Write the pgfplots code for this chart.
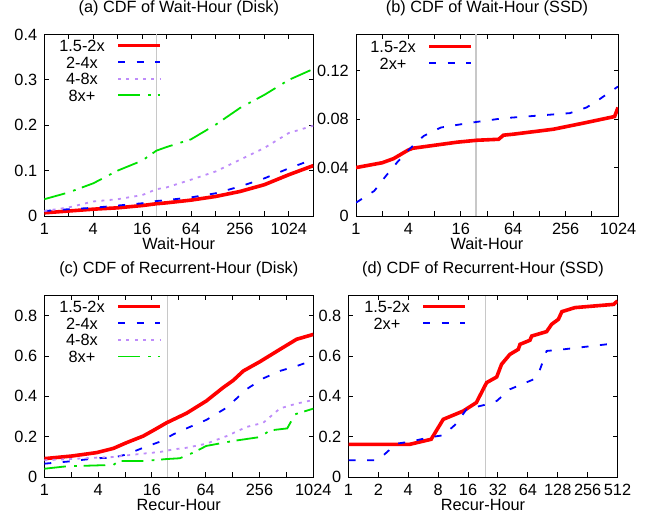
\documentclass[border=0pt]{standalone}
\usepackage{fontspec}
\setmainfont{Liberation Sans}
\usepackage{pgfplots}
\pgfplotsset{compat=1.18}
\definecolor{cR}{RGB}{255,0,0}
\definecolor{cB}{RGB}{0,0,255}
\definecolor{cP}{RGB}{190,140,250}
\definecolor{cG}{RGB}{0,225,0}
\definecolor{cL}{RGB}{200,200,200}
\pgfplotsset{
 myaxis/.style={
  scale only axis, height=181.5pt,
  ymin=0,
  axis line style={line width=0.9pt},
  tick style={black, line width=0.9pt},
  tick align=inside, major tick length=4.5pt,
  font=\fontsize{16.3}{19}\selectfont,
  xticklabel style={anchor=base, inner sep=0pt, yshift=-19pt},
  yticklabel style={anchor=east, inner sep=0pt, xshift=-7pt},
  title style={at={(0.5,1)}, anchor=base, inner sep=0pt, yshift=16pt},
  xlabel style={at={(0.5,0)}, anchor=base, inner sep=0pt, yshift=-34pt},
  legend plot pos=right, legend cell align=right,
  legend image code/.code={\draw[##1] (0pt,6pt) -- (42pt,6pt);},
  legend style={draw=none, fill=none, inner sep=0pt, outer sep=0pt, anchor=north east,
    column sep=11.7pt, row sep=0pt,
    nodes={inner sep=0pt, text height=11.7pt, text depth=4.9pt, anchor=base}},
 },
 sR/.style={cR, line width=3.6pt},
 sB/.style={cB, line width=1.8pt, dash pattern=on 7pt off 11.5pt},
 sP/.style={cP, line width=1.8pt, dash pattern=on 3pt off 5.3pt},
 sG/.style={cG, line width=1.8pt, dash pattern=on 21.7pt off 8.3pt on 2.7pt off 6.7pt},
 sL/.style={cL, line width=1.4pt},
}
\begin{document}
\begin{tikzpicture}
\useasboundingbox (0pt,0pt) rectangle (645pt,516pt);
% (a)
\begin{axis}[xmode=log, log basis x=2, myaxis, at={(44.3pt,300pt)}, anchor=south west, width=269pt,
  xmin=1, xmax=2048, ymax=0.4,
  xtick={1,2,4,8,16,32,64,128,256,512,1024,2048},
  xticklabels={1,,4,,16,,64,,256,,1024,},
  ytick={0,0.1,0.2,0.3,0.4}, yticklabels={0,0.1,0.2,0.3,0.4},
  title={(a) CDF of Wait-Hour (Disk)}, xlabel={Wait-Hour},
  legend style={at={(0.4375,1)}, yshift=-5.35pt}]
\addplot[sL, forget plot] coordinates {(24,0) (24,0.4)};
\addplot[sR] coordinates {(1,0.007) (2,0.011) (4,0.015) (8,0.018) (16,0.023) (24,0.027) (32,0.029) (64,0.035) (128,0.043) (256,0.054) (512,0.069) (1024,0.091) (2048,0.111)};
\addplot[sB] coordinates {(1,0.011) (2,0.015) (4,0.018) (8,0.023) (16,0.028) (24,0.033) (32,0.035) (64,0.041) (128,0.050) (256,0.065) (512,0.083) (1024,0.105) (2048,0.125)};
\addplot[sP] coordinates {(1,0.011) (2,0.019) (4,0.032) (8,0.037) (16,0.046) (24,0.059) (32,0.063) (64,0.080) (128,0.098) (256,0.124) (512,0.150) (1024,0.183) (2048,0.199)};
\addplot[sG] coordinates {(1,0.037) (2,0.052) (4,0.072) (8,0.100) (16,0.122) (24,0.144) (32,0.152) (64,0.169) (128,0.201) (256,0.238) (512,0.267) (1024,0.300) (2048,0.324)};
\legend{1.5-2x,2-4x,4-8x,8x+}
\end{axis}
% (b)
\begin{axis}[xmode=log, log basis x=2, myaxis, at={(356pt,300pt)}, anchor=south west, width=262pt,
  xmin=1, xmax=1024, ymax=0.15,
  xtick={1,2,4,8,16,32,64,128,256,512,1024},
  xticklabels={1,,4,,16,,64,,256,,1024},
  ytick={0,0.04,0.08,0.12}, yticklabels={0,0.04,0.08,0.12},
  title={(b) CDF of Wait-Hour (SSD)}, xlabel={Wait-Hour},
  legend style={at={(0.4466,1)}, yshift=-6.35pt}]
\addplot[sL, forget plot] coordinates {(24,0) (24,0.15)};
\addplot[sR] coordinates {(1,0.040) (2,0.044) (2.7,0.0474) (4,0.0546) (4.5,0.056) (14.5,0.061) (24.6,0.0626) (43.5,0.0634) (49.5,0.0668) (64,0.0676) (185,0.0717) (407,0.0767) (936,0.0822) (1024,0.0897)};
\addplot[sB] coordinates {(1,0.011) (1.62,0.0207) (2.2,0.033) (3,0.0447) (4.1,0.0552) (6,0.0662) (9.4,0.0731) (14.5,0.0753) (24.6,0.0778) (49.5,0.0808) (142,0.0833) (286,0.085) (446,0.0897) (630,0.0966) (1024,0.107)};
\legend{1.5-2x,2x+}
\end{axis}
% (c)
\begin{axis}[xmode=log, log basis x=2, myaxis, at={(44.3pt,39pt)}, anchor=south west, width=269pt,
  xmin=1, xmax=1024, ymax=0.9,
  xtick={1,2,4,8,16,32,64,128,256,512,1024},
  xticklabels={1,,4,,16,,64,,256,,1024},
  ytick={0,0.2,0.4,0.6,0.8}, yticklabels={0,0.2,0.4,0.6,0.8},
  title={(c) CDF of Recurrent-Hour (Disk)}, xlabel={Recur-Hour},
  legend style={at={(0.4375,1)}, yshift=-5.45pt}]
\addplot[sL, forget plot] coordinates {(24,0) (24,0.9)};
\addplot[sR] coordinates {(1,0.091) (2.03,0.104) (3.86,0.121) (5.94,0.142) (8.3,0.17) (12.8,0.203) (16.6,0.231) (23.4,0.269) (39,0.316) (65,0.377) (100,0.443) (130,0.479) (169,0.526) (259,0.572) (434,0.633) (666,0.683) (1024,0.707)};
\addplot[sB] coordinates {(1,0.066) (1.78,0.076) (3.86,0.093) (5.94,0.096) (8.3,0.112) (12.8,0.145) (19.7,0.175) (27.9,0.212) (39,0.241) (65,0.283) (110,0.344) (183,0.435) (282,0.489) (434,0.526) (666,0.55) (1024,0.579)};
\addplot[sP] coordinates {(1,0.083) (1.78,0.088) (3.86,0.096) (5.94,0.099) (8.3,0.107) (12.8,0.116) (19.7,0.124) (27.9,0.137) (39,0.145) (65,0.165) (110,0.203) (183,0.248) (282,0.269) (434,0.34) (666,0.364) (1024,0.382)};
\addplot[sG] coordinates {(1,0.041) (1.78,0.053) (5.94,0.06) (6.8,0.079) (12.8,0.079) (23.4,0.089) (32.9,0.093) (46.5,0.121) (65,0.154) (131,0.179) (259,0.198) (335,0.231) (523,0.241) (640,0.311) (1024,0.339)};
\legend{1.5-2x,2-4x,4-8x,8x+}
\end{axis}
% (d)
\begin{axis}[xmode=log, log basis x=2, myaxis, at={(348.5pt,39pt)}, anchor=south west, width=269pt,
  xmin=1, xmax=512, ymax=0.9,
  xtick={1,2,4,8,16,32,64,128,256,512},
  xticklabels={1,2,4,8,16,32,64,128,256,512},
  ytick={0,0.2,0.4,0.6,0.8}, yticklabels={0,0.2,0.4,0.6,0.8},
  title={(d) CDF of Recurrent-Hour (SSD)}, xlabel={Recur-Hour},
  legend style={at={(0.4405,1)}, yshift=-5.45pt}]
\addplot[sL, forget plot] coordinates {(24,0) (24,0.9)};
\addplot[sR] coordinates {(1,0.162) (2.05,0.162) (4.14,0.162) (6.8,0.187) (9.0,0.286) (14.3,0.327) (19.4,0.369) (24.6,0.468) (31.1,0.496) (34.8,0.559) (42.2,0.608) (51.3,0.633) (53.4,0.658) (67.2,0.678) (70,0.699) (99,0.721) (111,0.757) (130,0.782) (141,0.82) (191,0.84) (468,0.856) (512,0.873)};
\addplot[sB] coordinates {(1,0.083) (1.84,0.083) (2.3,0.112) (3.03,0.165) (4.14,0.175) (6.8,0.198) (9.0,0.207) (11.8,0.258) (15.5,0.336) (24.6,0.36) (31.1,0.377) (42.2,0.435) (73,0.484) (85,0.534) (99,0.625) (146,0.633) (400,0.658)};
\legend{1.5-2x,2x+}
\end{axis}
\end{tikzpicture}
\end{document}
